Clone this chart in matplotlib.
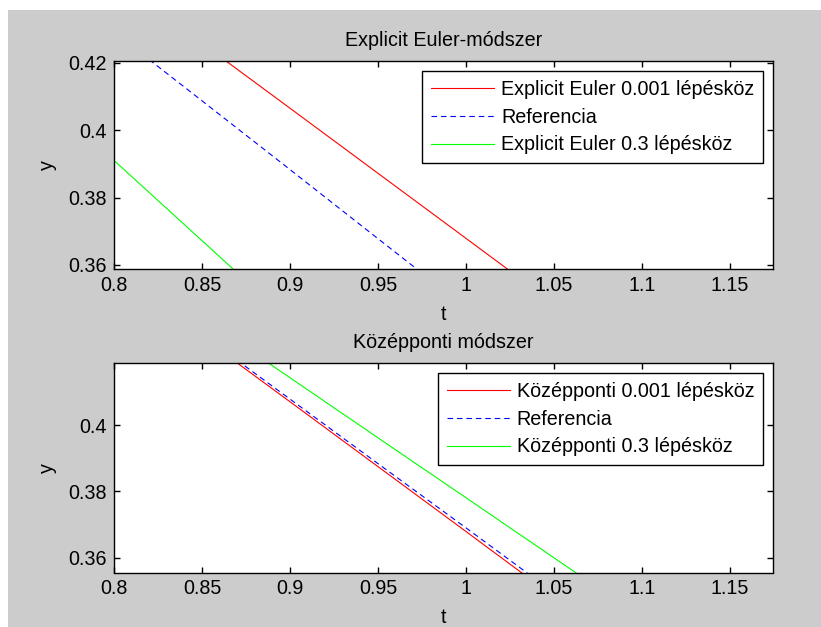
import matplotlib

matplotlib.use("Agg")
import matplotlib.pyplot as plt
from matplotlib.patches import Rectangle

plt.rcParams["font.family"] = ["Liberation Sans", "DejaVu Sans"]
plt.rcParams["font.size"] = 14.2

# --- data ---
top_red_t = [0.86, 0.90, 0.95, 1.00, 1.03]
top_red_y = [0.4219, 0.4065, 0.3872, 0.3679, 0.3563]
top_blue_t = [0.82, 0.85, 0.90, 0.95, 0.975]
top_blue_y = [0.4209, 0.4087, 0.3883, 0.3678, 0.3576]
top_green_t = [0.80, 0.87]
top_green_y = [0.3910, 0.3577]

bot_red_t = [0.868, 0.90, 0.95, 1.00, 1.035]
bot_red_y = [0.4196, 0.4071, 0.3875, 0.3679, 0.3541]
bot_blue_t = [0.870, 0.90, 0.95, 1.00, 1.038]
bot_blue_y = [0.4196, 0.4079, 0.3884, 0.3690, 0.3541]
bot_green_t = [0.885, 0.95, 1.00, 1.065]
bot_green_y = [0.4198, 0.3962, 0.3781, 0.3545]

x_ticks = [0.8, 0.85, 0.9, 0.95, 1.0, 1.05, 1.1, 1.15]
x_labels = ["0.8", "0.85", "0.9", "0.95", "1", "1.05", "1.1", "1.15"]
top_y_ticks = [0.36, 0.38, 0.40, 0.42]
top_y_labels = ["0.36", "0.38", "0.4", "0.42"]
bot_y_ticks = [0.36, 0.38, 0.40]
bot_y_labels = ["0.36", "0.38", "0.4"]

W, H = 821, 627
fig = plt.figure(figsize=(W / 100, H / 100), dpi=100, facecolor="white")
fig.patches.append(Rectangle((8 / W, 0), 1, 1 - 10 / H, transform=fig.transFigure,
                             facecolor="#cccccc", edgecolor="none", zorder=-10))


def px_axes(left, top, right, bottom):
    return fig.add_axes([left / W, 1 - bottom / H, (right - left) / W, (bottom - top) / H])


def style(ax, yticks, ylabels, ylim, title):
    ax.set_xlim(0.8, 1.1745)
    ax.set_ylim(*ylim)
    ax.set_xticks(x_ticks)
    ax.set_xticklabels(x_labels)
    ax.set_yticks(yticks)
    ax.set_yticklabels(ylabels)
    ax.tick_params(direction="in", length=4.5, width=1.0, top=True, right=True, pad=5)
    for s in ax.spines.values():
        s.set_linewidth(1.0)
    ax.set_xlabel("t", labelpad=7)
    ax.set_ylabel("y", labelpad=8)
    ax.set_title(title, pad=11, fontsize=14.2)
    leg = ax.legend(loc="upper right", fancybox=False, framealpha=1, edgecolor="black",
                    borderaxespad=0.5, handlelength=3.2, handletextpad=0.35,
                    labelspacing=0.45, borderpad=0.45)
    leg.get_frame().set_linewidth(1.0)


ax1 = px_axes(114, 61, 773, 269)
ax1.plot(top_red_t, top_red_y, color="#ff0000", lw=0.8, label="Explicit Euler 0.001 lépésköz")
ax1.plot(top_blue_t, top_blue_y, color="#0000ff", lw=0.8, ls=(0, (5, 3.5)), label="Referencia")
ax1.plot(top_green_t, top_green_y, color="#00ff00", lw=0.8, label="Explicit Euler 0.3 lépésköz")
style(ax1, top_y_ticks, top_y_labels, (0.3588, 0.4205), "Explicit Euler-módszer")

ax2 = px_axes(114, 363, 773, 572.5)
ax2.plot(bot_red_t, bot_red_y, color="#ff0000", lw=0.8, label="Középponti 0.001 lépésköz")
ax2.plot(bot_blue_t, bot_blue_y, color="#0000ff", lw=0.8, ls=(0, (5, 3.5)), label="Referencia")
ax2.plot(bot_green_t, bot_green_y, color="#00ff00", lw=0.8, label="Középponti 0.3 lépésköz")
style(ax2, bot_y_ticks, bot_y_labels, (0.3555, 0.4188), "Középponti módszer")

fig.savefig("out.png", dpi=100, facecolor="white")
